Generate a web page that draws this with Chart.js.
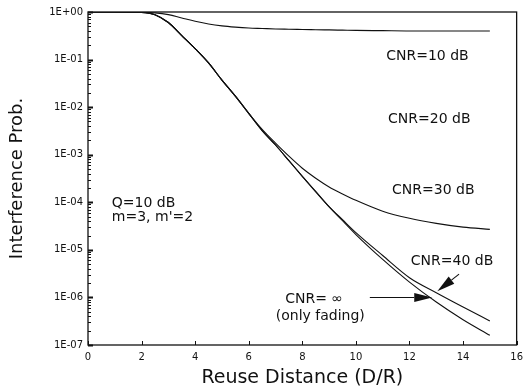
<!DOCTYPE html>
<html><head><meta charset="utf-8">
<script src="https://cdn.jsdelivr.net/npm/chart.js@4.4.1/dist/chart.umd.min.js"></script>
<style>html,body{margin:0;padding:0;background:#fff}#wrap{width:529px;height:392px}</style>
</head><body><div id="wrap"><canvas id="c" width="529" height="392"></canvas></div>
<script>
// Reuse distance D/R (x values shared by all curves)
const distance = [0, 1, 2, 2.5, 3, 3.5, 4, 4.5, 5, 5.5, 6, 6.5, 7, 7.5, 8, 8.5, 9, 9.5, 10, 11, 12, 13, 14, 15];
// Interference probability per CNR
const cnr10  = [1, 1, 0.99, 0.96, 0.88, 0.75, 0.64, 0.56, 0.51, 0.48, 0.46, 0.45, 0.44, 0.435, 0.43, 0.425, 0.42, 0.415, 0.41, 0.405, 0.40, 0.40, 0.40, 0.40];
const cnr30  = [1, 1, 0.98, 0.88, 0.6, 0.32, 0.17, 0.085, 0.037, 0.017, 0.0074, 3.4e-3, 1.75e-3, 9.3e-4, 5.2e-4, 3.2e-4, 2.1e-4, 1.5e-4, 1.1e-4, 6.5e-5, 4.6e-5, 3.6e-5, 3.0e-5, 2.7e-5];
const cnr40  = [1, 1, 0.98, 0.88, 0.6, 0.32, 0.17, 0.085, 0.037, 0.017, 0.0074, 3.2e-3, 1.6e-3, 7.5e-4, 3.5e-4, 1.7e-4, 8.1e-5, 4.3e-5, 2.3e-5, 7.6e-6, 2.6e-6, 1.26e-6, 6.3e-7, 3.2e-7];
const cnrInf = [1, 1, 0.98, 0.88, 0.6, 0.32, 0.17, 0.085, 0.037, 0.017, 0.0074, 3.2e-3, 1.6e-3, 7.5e-4, 3.5e-4, 1.65e-4, 8.0e-5, 4.1e-5, 2.1e-5, 6.3e-6, 2.1e-6, 8.0e-7, 3.4e-7, 1.6e-7];
// Tick values / labels
const xTickValues = [0, 2, 4, 6, 8, 10, 12, 14, 16];
const yTickValues = [1, 1e-1, 1e-2, 1e-3, 1e-4, 1e-5, 1e-6, 1e-7];
const yTickLabels = ['1E+00', '1E-01', '1E-02', '1E-03', '1E-04', '1E-05', '1E-06', '1E-07'];

const FONT = 'DejaVu Sans';
const INK = '#111';

function series(vals) { return distance.map((d, i) => ({ x: d, y: vals[i] })); }
function ds(label, vals) {
  return { label, data: series(vals), borderColor: INK, borderWidth: 1.1, pointRadius: 0,
           fill: false, cubicInterpolationMode: 'monotone' };
}

const decorations = {
  id: 'decorations',
  afterDraw(chart) {
    const ctx = chart.ctx, a = chart.chartArea;
    const xs = chart.scales.x, ys = chart.scales.y;
    const X = v => xs.getPixelForValue(v), Y = v => ys.getPixelForValue(v);
    ctx.save();
    // frame
    ctx.strokeStyle = INK; ctx.lineWidth = 1.3;
    ctx.strokeRect(a.left, a.top, a.right - a.left, a.bottom - a.top);
    // y ticks (inward)
    ctx.lineWidth = 1;
    for (let e = 0; e >= -7; e--) {
      const py = Math.round(Y(Math.pow(10, e))) + 0.5;
      ctx.lineWidth = 2;
      ctx.beginPath(); ctx.moveTo(a.left, py); ctx.lineTo(a.left + 5, py); ctx.stroke();
      ctx.lineWidth = 1;
      if (e > -7) {
        for (let m = 2; m <= 9; m++) {
          const p = Math.round(Y(m * Math.pow(10, e - 1))) + 0.5;
          ctx.beginPath(); ctx.moveTo(a.left, p); ctx.lineTo(a.left + 3, p); ctx.stroke();
        }
      }
    }
    // x ticks (inward)
    xTickValues.forEach(v => {
      const px = Math.round(X(v)) + 0.5;
      ctx.beginPath(); ctx.moveTo(px, a.bottom); ctx.lineTo(px, a.bottom - 4); ctx.stroke();
    });
    // annotations
    ctx.fillStyle = INK;
    ctx.font = '14px "' + FONT + '"';
    ctx.textBaseline = 'middle';
    const txt = (s, x, lg, align) => { ctx.textAlign = align || 'center'; ctx.fillText(s, X(x), Y(Math.pow(10, lg))); };
    txt('CNR=10 dB', 12.67, -0.935);
    txt('CNR=20 dB', 12.74, -2.26);
    txt('CNR=30 dB', 12.89, -3.75);
    txt('CNR=40 dB', 13.59, -5.24);
    txt('CNR= \u221E', 8.44, -6.04);
    txt('(only fading)', 8.67, -6.40);
    txt('Q=10 dB', 0.89, -4.02, 'left');
    txt("m=3, m'=2", 0.89, -4.32, 'left');
    // arrows
    const arrow = (x1, l1, x2, l2) => {
      const ax = X(x1), ay = Y(Math.pow(10, l1)), bx = X(x2), by = Y(Math.pow(10, l2));
      const ang = Math.atan2(by - ay, bx - ax), L = 18, W = 4.5;
      const hx = bx - L * Math.cos(ang), hy = by - L * Math.sin(ang);
      ctx.lineWidth = 1.1;
      ctx.beginPath(); ctx.moveTo(ax, ay); ctx.lineTo(hx, hy); ctx.stroke();
      ctx.beginPath();
      ctx.moveTo(bx, by);
      ctx.lineTo(hx + W * Math.sin(ang), hy - W * Math.cos(ang));
      ctx.lineTo(hx - W * Math.sin(ang), hy + W * Math.cos(ang));
      ctx.closePath(); ctx.fill();
    };
    arrow(10.52, -6.0, 12.85, -6.0);
    arrow(13.85, -5.51, 13.04, -5.87);
    ctx.restore();
  }
};

new Chart(document.getElementById('c'), {
  type: 'line',
  data: { datasets: [ds('CNR=10 dB', cnr10), ds('CNR=30 dB', cnr30), ds('CNR=40 dB', cnr40), ds('CNR=\u221E', cnrInf)] },
  options: {
    responsive: false, animation: false, devicePixelRatio: 1,
    layout: { padding: { top: 12, right: 9, left: 0, bottom: 0 } },
    plugins: { legend: { display: false }, tooltip: { enabled: false } },
    scales: {
      x: {
        type: 'linear', min: 0, max: 16,
        afterBuildTicks: s => { s.ticks = xTickValues.map(v => ({ value: v })); },
        afterFit: s => { s.height = 47; },
        grid: { display: false, drawTicks: false }, border: { display: false },
        ticks: { autoSkip: false, maxRotation: 0, padding: 6, color: INK, font: { family: FONT, size: 10 } },
        title: { display: true, text: 'Reuse Distance (D/R)', color: INK, font: { family: FONT, size: 19 }, padding: { top: 0, bottom: 3 } }
      },
      y: {
        type: 'logarithmic', min: 1e-7, max: 1,
        afterBuildTicks: s => { s.ticks = yTickValues.map(v => ({ value: v })); },
        afterFit: s => { s.width = 88; },
        grid: { display: false, drawTicks: false }, border: { display: false },
        ticks: { autoSkip: false, padding: 5, color: INK, font: { family: FONT, size: 10 },
          callback: v => yTickLabels[Math.round(-Math.log10(v))] },
        title: { display: true, text: 'Interference Prob.', color: INK, font: { family: FONT, size: 18 }, padding: { top: 7, bottom: 7 } }
      }
    }
  },
  plugins: [decorations]
});
</script></body></html>
